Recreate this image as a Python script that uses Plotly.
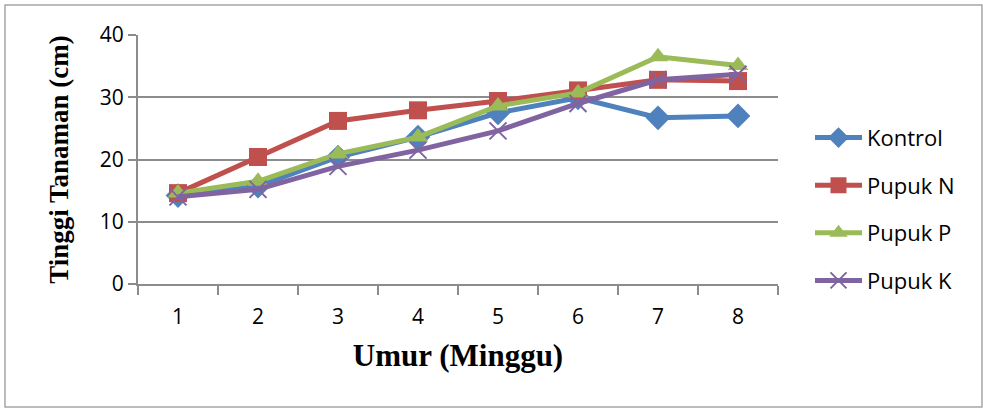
import plotly.graph_objects as go

weeks = ["1", "2", "3", "4", "5", "6", "7", "8"]
kontrol = [14.2, 15.7, 20.4, 23.6, 27.5, 29.9, 26.7, 27.0]
pupuk_n = [14.6, 20.4, 26.2, 27.9, 29.4, 31.1, 32.8, 32.6]
pupuk_p = [14.6, 16.5, 20.9, 23.6, 28.6, 30.7, 36.5, 35.1]
pupuk_k = [14.0, 15.2, 18.9, 21.5, 24.6, 29.0, 32.8, 33.7]

series = [
    ("Kontrol", kontrol, "#4F81BD", "diamond", 19),
    ("Pupuk N", pupuk_n, "#C0504D", "square", 18),
    ("Pupuk P", pupuk_p, "#9BBB59", "triangle-up", 18),
    ("Pupuk K", pupuk_k, "#8064A2", "x-thin-open", 17),
]

fig = go.Figure()
for name, vals, col, sym, sz in series:
    marker = dict(symbol=sym, size=sz, color=col)
    if sym == "x-thin-open":
        marker["line"] = dict(color=col, width=2)
    fig.add_trace(go.Scatter(
        x=weeks, y=vals, name=name, mode="lines+markers",
        line=dict(color=col, width=5), marker=marker,
        legendgroup=name,
    ))

grid = "#8c8c8c"
tickfont = dict(size=21, family="Open Sans, Liberation Sans", color="black")
fig.update_layout(
    width=983, height=410,
    margin=dict(l=138, r=205, t=35, b=126),
    paper_bgcolor="white", plot_bgcolor="white",
    font=dict(family="Open Sans, Liberation Sans", color="black"),
    showlegend=True,
    legend=dict(x=1.05, xanchor="left", y=0.30, yanchor="middle",
                font=dict(size=22, family="Open Sans, Liberation Sans"),
                tracegroupgap=16, itemwidth=47, bgcolor="rgba(0,0,0,0)"),
    xaxis=dict(
        type="category", range=[-0.5, 7.5], showgrid=False,
        showline=True, linecolor=grid, linewidth=2,
        ticks="outside", tickson="boundaries", ticklen=9, tickcolor=grid, tickwidth=2,
        tickfont=tickfont, ticklabelstandoff=13,
        title=dict(text="<b>Umur (Minggu)</b>",
                   font=dict(size=31, family="Liberation Serif, Times New Roman", color="black"),
                   standoff=15),
    ),
    yaxis=dict(
        range=[0, 40], dtick=10, showgrid=True, gridcolor=grid, gridwidth=2,
        showline=True, linecolor=grid, linewidth=2, zeroline=False,
        ticks="outside", ticklen=8, tickcolor=grid, tickwidth=2,
        tickfont=tickfont,
        title=dict(text="<b>Tinggi Tanaman (cm)</b>",
                   font=dict(size=27, family="Liberation Serif, Times New Roman", color="black"),
                   standoff=23),
    ),
    shapes=[dict(type="rect", xref="paper", yref="paper",
                 x0=-133/640, x1=(982-138)/640, y0=-123/249, y1=(284-5)/249,
                 line=dict(color="#a6a6a6", width=1.5))],
)

fig.write_html("out.html", config={"displayModeBar": False},
               post_script="document.body.style.margin='0';")
